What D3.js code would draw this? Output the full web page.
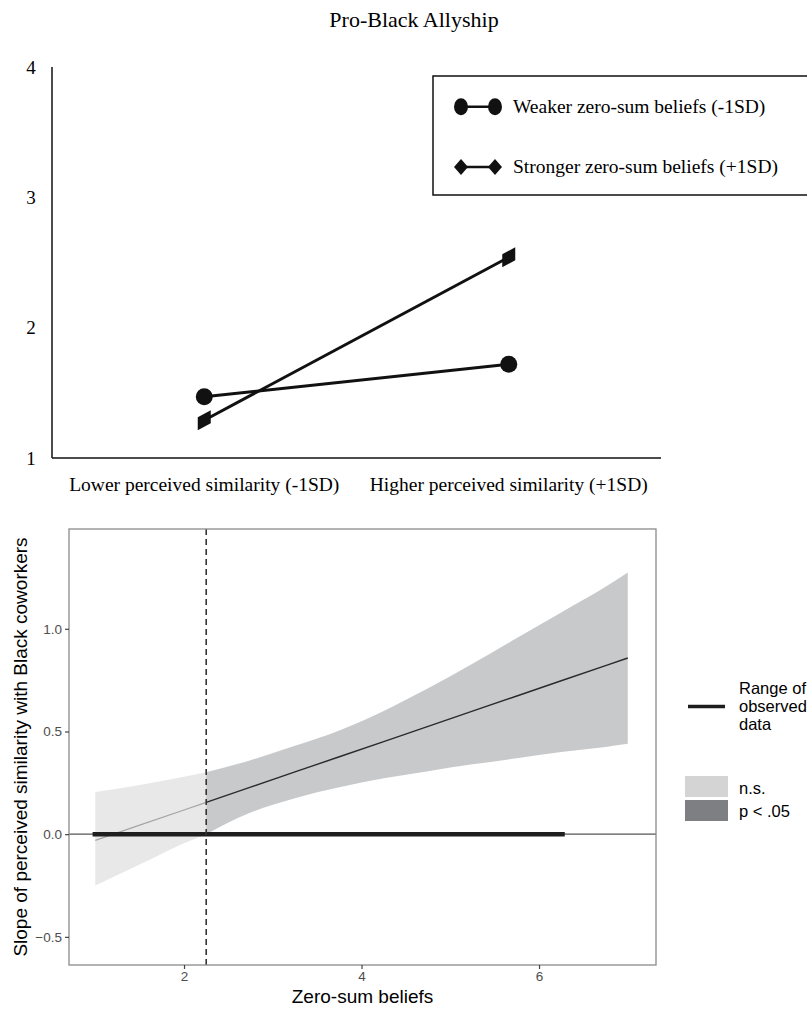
<!DOCTYPE html>
<html>
<head>
<meta charset="utf-8">
<script src="https://cdn.jsdelivr.net/npm/d3@7"></script>
<style>
body { margin: 0; background: #fff; }
svg { display: block; }
</style>
</head>
<body>
<script>
// top panel data
var conditions = ["Lower perceived similarity (-1SD)", "Higher perceived similarity (+1SD)"];
var weakerVals = [1.47, 1.72];
var strongerVals = [1.29, 2.54];
var seriesNames = ["Weaker zero-sum beliefs (-1SD)", "Stronger zero-sum beliefs (+1SD)"];
var topTicks = [1, 2, 3, 4];

// bottom panel data (Johnson-Neyman plot)
var zeroSum = [1, 1.5, 2, 2.25, 2.75, 3.25, 3.75, 4.25, 4.75, 5.25, 5.75, 6.25, 6.75, 7];
var slopeEst = [-0.03, 0.044, 0.118, 0.155, 0.229, 0.303, 0.377, 0.451, 0.525, 0.599, 0.673, 0.747, 0.821, 0.858];
var slopeUpper = [0.205, 0.24, 0.28, 0.302, 0.36, 0.43, 0.505, 0.6, 0.71, 0.83, 0.955, 1.08, 1.205, 1.274];
var slopeLower = [-0.25, -0.148, -0.044, 0.0, 0.105, 0.175, 0.228, 0.272, 0.307, 0.34, 0.37, 0.40, 0.425, 0.44];
var jnPoint = 2.25;
var observedRange = [0.97, 6.29];
var xTicks = [2, 4, 6];
var yTicks = [-0.5, 0, 0.5, 1.0];

var width = 807;
var height = 1009;

var svg = d3.select("body").append("svg")
    .attr("width", width)
    .attr("height", height);

var serif = "'Liberation Serif', 'Times New Roman', serif";
var sans = "'Liberation Sans', Arial, sans-serif";

//---------------- top chart ----------------
var topG = svg.append("g");

topG.append("text")
    .attr("x", 414).attr("y", 27)
    .attr("text-anchor", "middle")
    .style("font-family", serif).style("font-size", "22px")
    .text("Pro-Black Allyship");

var xTop = d3.scalePoint().domain(conditions).range([52, 661]).padding(0.5);
var yTop = d3.scaleLinear().domain([1, 4]).range([458, 67]);

// axes lines
topG.append("line").attr("x1", 52).attr("x2", 52).attr("y1", yTop(4)).attr("y2", yTop(1))
    .attr("stroke", "#111").attr("stroke-width", 1.5);
topG.append("line").attr("x1", 52).attr("x2", 661).attr("y1", yTop(1)).attr("y2", yTop(1))
    .attr("stroke", "#111").attr("stroke-width", 1.5);

topG.selectAll(".ytl").data(topTicks).enter().append("text")
    .attr("x", 31).attr("y", function (d) { return yTop(d); })
    .attr("dy", "0.35em")
    .attr("text-anchor", "middle")
    .style("font-family", serif).style("font-size", "19px")
    .text(function (d) { return d; });

topG.selectAll(".xtl").data(conditions).enter().append("text")
    .attr("x", function (d) { return xTop(d); }).attr("y", 491)
    .attr("text-anchor", "middle")
    .style("font-family", serif).style("font-size", "19.5px")
    .text(function (d) { return d; });

var lineTop = d3.line()
    .x(function (d, i) { return xTop(conditions[i]); })
    .y(function (d) { return yTop(d); });

topG.append("path").attr("d", lineTop(weakerVals))
    .attr("fill", "none").attr("stroke", "#111").attr("stroke-width", 3);
topG.append("path").attr("d", lineTop(strongerVals))
    .attr("fill", "none").attr("stroke", "#111").attr("stroke-width", 3);

topG.selectAll(".dot").data(weakerVals).enter().append("circle")
    .attr("cx", function (d, i) { return xTop(conditions[i]); })
    .attr("cy", function (d) { return yTop(d); })
    .attr("r", 8.5).attr("fill", "#111");

// slanted squares following the line, like the original markers
var sl = (yTop(strongerVals[1]) - yTop(strongerVals[0])) / (xTop(conditions[1]) - xTop(conditions[0]));
topG.selectAll(".dia").data(strongerVals).enter().append("path")
    .attr("d", function (d, i) {
        var cx = xTop(conditions[i]), cy = yTop(d), w = 6.5, h = 6.5;
        return "M" + (cx - w) + "," + (cy - h - sl * w) +
            "L" + (cx + w) + "," + (cy - h + sl * w) +
            "L" + (cx + w) + "," + (cy + h + sl * w) +
            "L" + (cx - w) + "," + (cy + h - sl * w) + "Z";
    })
    .attr("fill", "#111");

// legend box
var leg = topG.append("g");
leg.append("rect").attr("x", 433).attr("y", 76).attr("width", 390).attr("height", 119)
    .attr("fill", "none").attr("stroke", "#111").attr("stroke-width", 1.5);

var legY = [106.7, 167];
leg.selectAll(".ll").data(legY).enter().append("line")
    .attr("x1", 461).attr("x2", 495)
    .attr("y1", function (d) { return d; }).attr("y2", function (d) { return d; })
    .attr("stroke", "#111").attr("stroke-width", 2.5);
[461, 495].forEach(function (cx) {
    leg.append("ellipse").attr("cx", cx).attr("cy", legY[0]).attr("rx", 7).attr("ry", 8.5).attr("fill", "#111");
    leg.append("path")
        .attr("d", "M" + (cx - 7) + "," + legY[1] + "L" + cx + "," + (legY[1] - 8) + "L" + (cx + 7) + "," + legY[1] + "L" + cx + "," + (legY[1] + 8) + "Z")
        .attr("fill", "#111");
});
leg.selectAll(".lt").data(seriesNames).enter().append("text")
    .attr("x", 513).attr("y", function (d, i) { return legY[i]; })
    .attr("dy", "0.33em")
    .style("font-family", serif).style("font-size", "19.5px")
    .text(function (d) { return d; });

//---------------- bottom chart ----------------
var pl = 69, pr = 656, pt = 529, pb = 965;
var x = d3.scaleLinear().domain([0.704, 7.318]).range([pl, pr]);
var y = d3.scaleLinear().domain([-0.637, 1.486]).range([pb, pt]);

var bot = svg.append("g");

var rows = zeroSum.map(function (z, i) {
    return { x: z, est: slopeEst[i], lo: slopeLower[i], hi: slopeUpper[i] };
});
var nsRows = rows.filter(function (d) { return d.x <= jnPoint; });
var sigRows = rows.filter(function (d) { return d.x >= jnPoint; });

var area = d3.area()
    .x(function (d) { return x(d.x); })
    .y0(function (d) { return y(d.lo); })
    .y1(function (d) { return y(d.hi); })
    .curve(d3.curveMonotoneX);
var estLine = d3.line()
    .x(function (d) { return x(d.x); })
    .y(function (d) { return y(d.est); });

bot.append("path").attr("d", area(nsRows)).attr("fill", "#e8e8e9");
bot.append("path").attr("d", area(sigRows)).attr("fill", "#c8c9cb");

// zero line
bot.append("line").attr("x1", pl).attr("x2", pr).attr("y1", y(0)).attr("y2", y(0))
    .attr("stroke", "#555").attr("stroke-width", 1.3);

bot.append("path").attr("d", estLine(nsRows))
    .attr("fill", "none").attr("stroke", "#a5a5a7").attr("stroke-width", 1.2);
bot.append("path").attr("d", estLine(sigRows))
    .attr("fill", "none").attr("stroke", "#2a2a2a").attr("stroke-width", 1.4);

// range of observed data
bot.append("line").attr("x1", x(observedRange[0])).attr("x2", x(observedRange[1]))
    .attr("y1", y(0)).attr("y2", y(0))
    .attr("stroke", "#1e1e1e").attr("stroke-width", 4.5);

// Johnson-Neyman line
bot.append("line").attr("x1", x(jnPoint)).attr("x2", x(jnPoint)).attr("y1", pt).attr("y2", pb)
    .attr("stroke", "#333").attr("stroke-width", 1.6).attr("stroke-dasharray", "6,4");

// panel border
bot.append("rect").attr("x", pl).attr("y", pt).attr("width", pr - pl).attr("height", pb - pt)
    .attr("fill", "none").attr("stroke", "#8a8a8a").attr("stroke-width", 1.3);

// axes
var xAxis = bot.append("g").attr("transform", "translate(0," + pb + ")")
    .call(d3.axisBottom(x).tickValues(xTicks).tickSize(4).tickPadding(2).tickFormat(d3.format("d")));
var yAxis = bot.append("g").attr("transform", "translate(" + pl + ",0)")
    .call(d3.axisLeft(y).tickValues(yTicks).tickSize(4).tickPadding(3).tickFormat(d3.format(".1f")));
[xAxis, yAxis].forEach(function (a) {
    a.select(".domain").remove();
    a.selectAll(".tick line").attr("stroke", "#444").attr("stroke-width", 1.2);
    a.selectAll(".tick text").attr("fill", "#4d4d4d")
        .style("font-family", sans).style("font-size", "13.5px");
});

bot.append("text")
    .attr("x", (pl + pr) / 2).attr("y", 1003)
    .attr("text-anchor", "middle")
    .style("font-family", sans).style("font-size", "19px")
    .text("Zero-sum beliefs");

bot.append("text")
    .attr("transform", "translate(27," + ((pt + pb) / 2) + ") rotate(-90)")
    .attr("text-anchor", "middle")
    .style("font-family", sans).style("font-size", "19px")
    .text("Slope of perceived similarity with Black coworkers");

// legend
var bl = bot.append("g");
bl.append("line").attr("x1", 688).attr("x2", 725).attr("y1", 706.5).attr("y2", 706.5)
    .attr("stroke", "#1e1e1e").attr("stroke-width", 3.5);
bl.selectAll(".rt").data(["Range of", "observed", "data"]).enter().append("text")
    .attr("x", 739).attr("y", function (d, i) { return 688 + i * 18.3; })
    .attr("dy", "0.35em")
    .style("font-family", sans).style("font-size", "16.5px")
    .text(function (d) { return d; });

var keyFills = ["#d4d4d5", "#7e7f82"];
var keyLabels = ["n.s.", "p < .05"];
bl.selectAll(".kr").data(keyFills).enter().append("rect")
    .attr("x", 685).attr("y", function (d, i) { return 776 + i * 24; })
    .attr("width", 43).attr("height", 21)
    .attr("fill", function (d) { return d; });
bl.selectAll(".kt").data(keyLabels).enter().append("text")
    .attr("x", 739).attr("y", function (d, i) { return 788 + i * 23; })
    .attr("dy", "0.35em")
    .style("font-family", sans).style("font-size", "16.5px")
    .text(function (d) { return d; });
</script>
</body>
</html>
